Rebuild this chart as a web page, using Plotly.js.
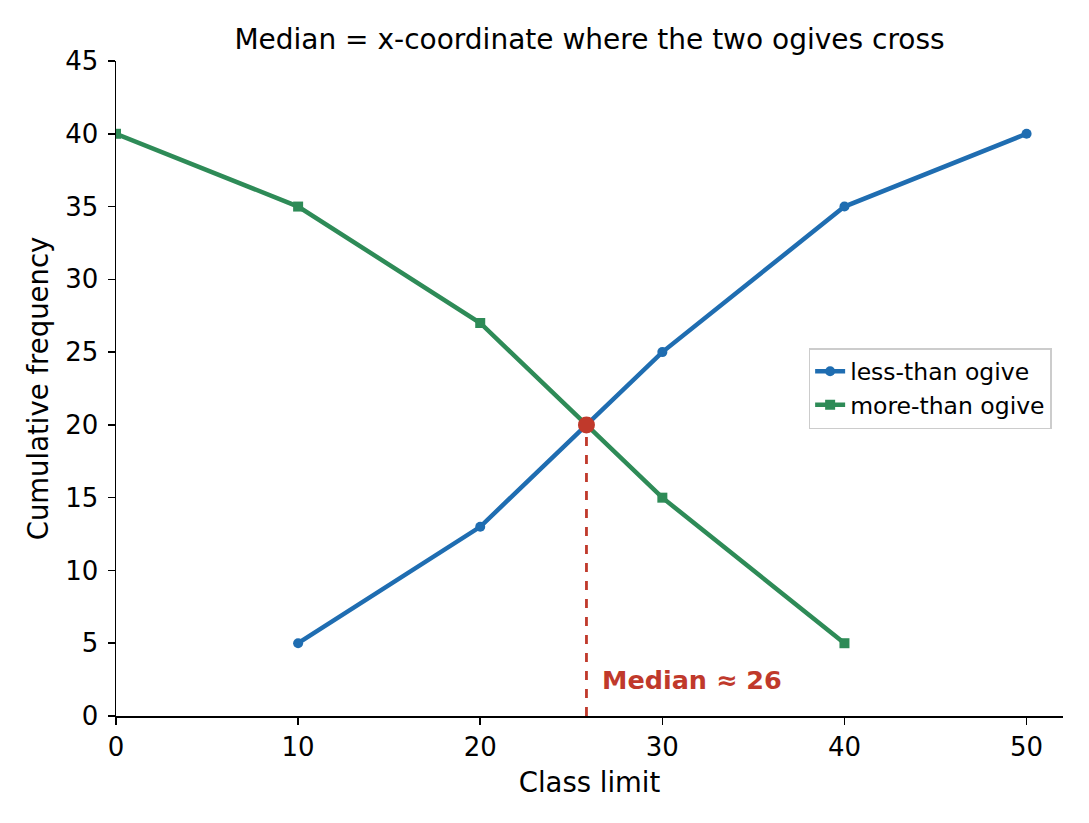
<!DOCTYPE html>
<html>
<head>
<meta charset="utf-8">
<script src="https://cdn.plot.ly/plotly-3.0.1.min.js"></script>
<style>html,body{margin:0;padding:0;background:#fff;}#chart{width:1089px;height:823px;}</style>
</head>
<body>
<div id="chart"></div>
<script>
// Data
const lessX = [10, 20, 30, 40, 50];
const lessY = [5, 13, 25, 35, 40];
const moreX = [0, 10, 20, 30, 40];
const moreY = [40, 35, 27, 15, 5];
const xTicks = [0, 10, 20, 30, 40, 50];
const yTicks = [0, 5, 10, 15, 20, 25, 30, 35, 40, 45];

// Crossing point computed from the data
function crossing() {
  for (let i = 0; i < moreX.length - 1; i++) {
    const x0 = moreX[i], x1 = moreX[i + 1];
    const li0 = lessX.indexOf(x0), li1 = lessX.indexOf(x1);
    if (li0 < 0 || li1 < 0) continue;
    const d0 = lessY[li0] - moreY[i], d1 = lessY[li1] - moreY[i + 1];
    if (d0 <= 0 && d1 >= 0) {
      const t = -d0 / (d1 - d0);
      return [x0 + t * (x1 - x0), moreY[i] + t * (moreY[i + 1] - moreY[i])];
    }
  }
  return [null, null];
}
const [medX, medY] = crossing();

const FONT = 'DejaVu Sans, sans-serif';
const blue = '#1f6db1', green = '#2e8b57', red = '#c0392b';

const traces = [
  {x: lessX, y: lessY, mode: 'lines+markers', name: 'less-than ogive',
   line: {color: blue, width: 4.5}, marker: {symbol: 'circle', size: 10, color: blue}},
  {x: moreX, y: moreY, mode: 'lines+markers', name: 'more-than ogive',
   line: {color: green, width: 4.5}, marker: {symbol: 'square', size: 10, color: green}},
  {x: [medX, medX], y: [0, medY], mode: 'lines', showlegend: false, hoverinfo: 'skip',
   line: {color: red, width: 2.8, dash: 'dash'}},
  {x: [medX], y: [medY], mode: 'markers', showlegend: false,
   marker: {symbol: 'circle', size: 17, color: red}}
];

const layout = {
  width: 1089, height: 823,
  margin: {l: 116, r: 26, t: 61, b: 107},
  paper_bgcolor: '#fff', plot_bgcolor: '#fff',
  font: {family: FONT, color: '#000', size: 26},
  title: {text: 'Median = x-coordinate where the two ogives cross', x: 0.5, xref: 'paper',
          y: 1, yref: 'paper', yanchor: 'bottom', pad: {b: 12}, font: {size: 28, family: FONT}},
  xaxis: {range: [0, 52], tickvals: xTicks, ticktext: xTicks.map(String), showgrid: false, zeroline: false,
          showline: true, linecolor: '#000', linewidth: 1.5, ticks: 'outside', ticklen: 7, tickwidth: 1.5,
          tickcolor: '#000', tickfont: {size: 26}, title: {text: 'Class limit', font: {size: 27.5}, standoff: 12}},
  yaxis: {range: [0, 45], tickvals: yTicks, ticktext: yTicks.map(String), showgrid: false, zeroline: false,
          showline: true, linecolor: '#000', linewidth: 1.5, ticks: 'outside', ticklen: 7, tickwidth: 1.5,
          ticklabelstandoff: 4,
          tickcolor: '#000', tickfont: {size: 26}, title: {text: 'Cumulative frequency', font: {size: 27.5}, standoff: 8}},
  legend: {x: 0.988, xanchor: 'right', y: 0.5, yanchor: 'middle', bgcolor: 'rgba(255,255,255,0.8)',
           bordercolor: '#cccccc', borderwidth: 1.5, font: {size: 23.5, family: FONT}, tracegroupgap: 0},
  annotations: [{x: medX + 0.75, y: 2.5, xanchor: 'left', yanchor: 'middle', showarrow: false,
                 text: '<b>Median ≈ ' + Math.round(medX) + '</b>', font: {size: 25.5, color: red, family: FONT}}],
  showlegend: true
};

Plotly.newPlot('chart', traces, layout, {displayModeBar: false, staticPlot: true});
</script>
</body>
</html>
